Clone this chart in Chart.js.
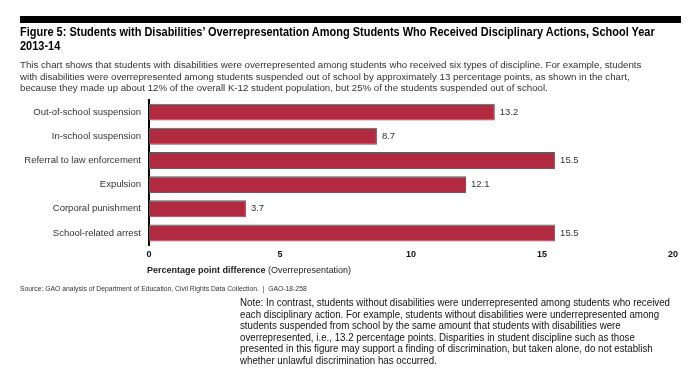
<!DOCTYPE html>
<html>
<head>
<meta charset="utf-8">
<script src="https://cdn.jsdelivr.net/npm/chart.js@4.4.0/dist/chart.umd.min.js"></script>
<style>
  body { margin: 0; background: #fff; font-family: "Liberation Sans", Arial, sans-serif; }
  #page { position: relative; width: 700px; height: 376px; overflow: hidden; }
  #rule { position: absolute; left: 20px; top: 16px; width: 661px; height: 7px; background: #000; }
  .txt { position: absolute; white-space: nowrap; transform-origin: 0 0; }
  #title { left: 20px; top: 25px; font-size: 12px; font-weight: bold; line-height: 14px; color: #000; transform: scaleX(0.915); }
  #desc { left: 20px; top: 59px; font-size: 9.7px; line-height: 11.6px; color: #333; }
  #source { left: 20px; top: 285px; font-size: 7px; color: #333; transform: scaleX(0.97); }
  #note { left: 240px; top: 297px; font-size: 10px; line-height: 11.6px; color: #111; transform: scaleX(0.973); }
  #chart-wrap { position: absolute; left: 0; top: 0; width: 700px; height: 376px; }
</style>
</head>
<body>
<div id="page">
  <div id="chart-wrap"><canvas id="discipline-chart"></canvas></div>
  <div id="rule"></div>
  <div id="title" class="txt">Figure 5: Students with Disabilities’ Overrepresentation Among Students Who Received Disciplinary Actions, School Year<br>2013-14</div>
  <div id="desc" class="txt">This chart shows that students with disabilities were overrepresented among students who received six types of discipline. For example, students<br>with disabilities were overrepresented among students suspended out of school by approximately 13 percentage points, as shown in the chart,<br>because they made up about 12% of the overall K-12 student population, but 25% of the students suspended out of school.</div>
  <div id="source" class="txt">Source: GAO analysis of Department of Education, Civil Rights Data Collection.&nbsp; |&nbsp; GAO-18-258</div>
  <div id="note" class="txt">Note: In contrast, students without disabilities were underrepresented among students who received<br>each disciplinary action. For example, students without disabilities were underrepresented among<br>students suspended from school by the same amount that students with disabilities were<br>overrepresented, i.e., 13.2 percentage points. Disparities in student discipline such as those<br>presented in this figure may support a finding of discrimination, but taken alone, do not establish<br>whether unlawful discrimination has occurred.</div>
</div>
<script>
const actions = ['Out-of-school suspension', 'In-school suspension', 'Referral to law enforcement', 'Expulsion', 'Corporal punishment', 'School-related arrest'];
const overrep = [13.2, 8.7, 15.5, 12.1, 3.7, 15.5];
const xTicks = [0, 5, 10, 15, 20];

const fontFamily = '"Liberation Sans", Arial, sans-serif';

// value labels at bar ends + x axis title with mixed weights
const annotate = {
    id: 'annotate',
    afterDatasetsDraw(chart) {
        const ctx = chart.ctx;
        const meta = chart.getDatasetMeta(0);
        ctx.save();
        ctx.font = '9.5px ' + fontFamily;
        ctx.fillStyle = '#333';
        ctx.textBaseline = 'middle';
        ctx.textAlign = 'left';
        meta.data.forEach((bar, i) => {
            ctx.fillText(overrep[i].toFixed(1), bar.x + 5, bar.y);
        });

        const area = chart.chartArea;
        const y = area.bottom + 26;
        ctx.fillStyle = '#222';
        ctx.font = 'bold 9px ' + fontFamily;
        const boldPart = 'Percentage point difference';
        ctx.fillText(boldPart, area.left - 2, y);
        const w = ctx.measureText(boldPart).width;
        ctx.font = '9px ' + fontFamily;
        ctx.fillText(' (Overrepresentation)', area.left - 2 + w, y);
        ctx.restore();
    }
};

const ctx = document.getElementById('discipline-chart').getContext('2d');

new Chart(ctx, {
    type: 'bar',
    data: {
        labels: actions,
        datasets: [{
            data: overrep,
            backgroundColor: 'rgb(178, 42, 64)',
            borderColor: '#6e5a5e',
            borderWidth: 1,
            borderSkipped: 'left',
            barPercentage: 0.7,
            categoryPercentage: 1.0
        }]
    },
    options: {
        indexAxis: 'y',
        responsive: true,
        maintainAspectRatio: false,
        animation: false,
        layout: {
            padding: { top: 100, right: 27, bottom: 96, left: 0 }
        },
        scales: {
            x: {
                min: 0,
                max: 20,
                afterBuildTicks: function(scale) {
                    scale.ticks = xTicks.map(v => ({ value: v }));
                },
                afterFit: function(scale) {
                    scale.height = 35;
                },
                grid: { display: false, drawTicks: false },
                border: { display: false },
                ticks: {
                    padding: 4,
                    color: '#111',
                    font: { family: fontFamily, size: 9, weight: 'bold' }
                }
            },
            y: {
                afterFit: function(scale) {
                    scale.width = 149;
                },
                grid: { display: false, drawTicks: false },
                border: { display: true, color: '#000', width: 2 },
                ticks: {
                    padding: 8,
                    color: '#333',
                    font: { family: fontFamily, size: 9.5 }
                }
            }
        },
        plugins: {
            legend: { display: false },
            tooltip: { enabled: false }
        }
    },
    plugins: [annotate]
});
</script>
</body>
</html>
